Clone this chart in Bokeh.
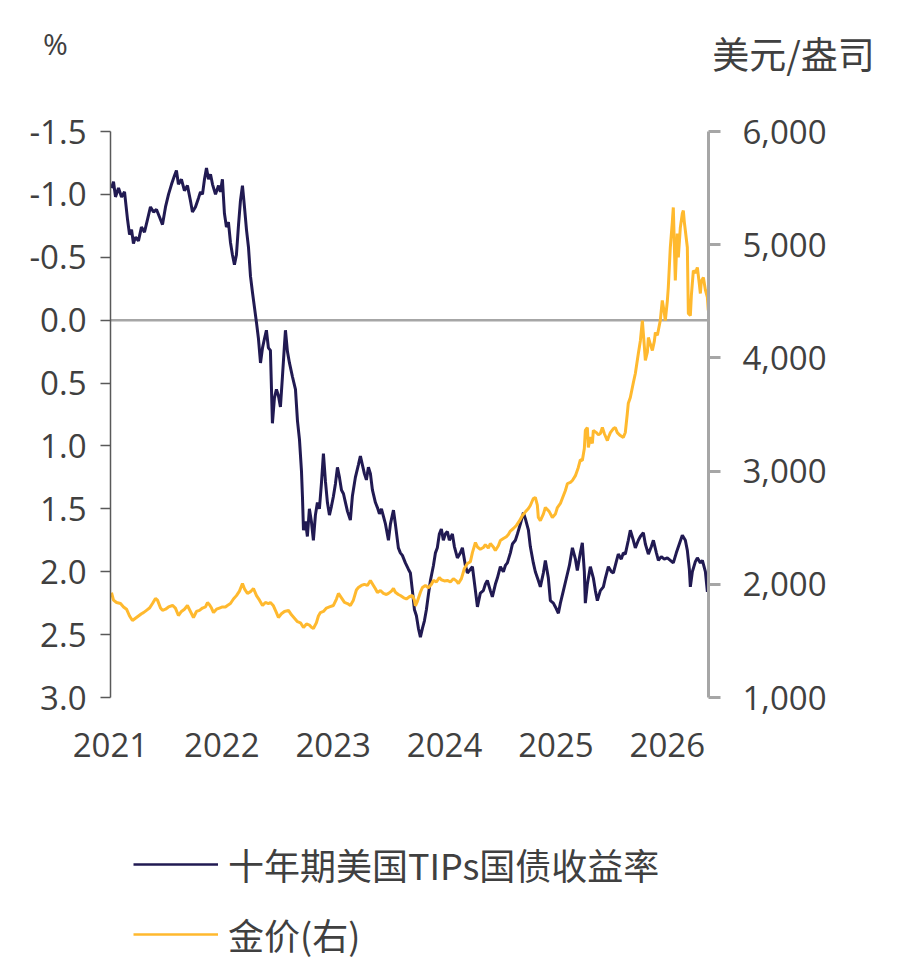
from bokeh.plotting import figure
from bokeh.layouts import column
from bokeh.models import (Range1d, LinearAxis, FixedTicker, NumeralTickFormatter,
                          Span, Label, Legend, LegendItem, ColumnDataSource)
from bokeh.embed import file_html
from bokeh.resources import INLINE

# 10-year US TIPS yield (%), sampled dates as decimal years
tips_t = [
    2021.009, 2021.027, 2021.045, 2021.072, 2021.099, 2021.126, 2021.153, 2021.171, 2021.189, 2021.206,
    2021.224, 2021.251, 2021.278, 2021.305, 2021.332, 2021.359, 2021.386, 2021.413, 2021.440, 2021.467,
    2021.494, 2021.521, 2021.548, 2021.575, 2021.592, 2021.610, 2021.637, 2021.664, 2021.691, 2021.718,
    2021.736, 2021.763, 2021.790, 2021.808, 2021.826, 2021.844, 2021.862, 2021.880, 2021.898, 2021.916,
    2021.943, 2021.970, 2021.987,
    2022.005, 2022.023, 2022.041, 2022.059, 2022.077, 2022.095, 2022.113, 2022.131, 2022.149, 2022.167,
    2022.185, 2022.203, 2022.221, 2022.239, 2022.257, 2022.275, 2022.293, 2022.311, 2022.329, 2022.347,
    2022.365, 2022.382, 2022.400, 2022.418, 2022.436, 2022.454, 2022.472, 2022.490, 2022.508, 2022.526,
    2022.544, 2022.562, 2022.571, 2022.589, 2022.607, 2022.634, 2022.661, 2022.679, 2022.697, 2022.715,
    2022.724, 2022.733, 2022.751, 2022.768, 2022.786, 2022.804, 2022.822, 2022.840, 2022.858, 2022.876,
    2022.894, 2022.912, 2022.930, 2022.948, 2022.966, 2022.984,
    2023.002, 2023.020, 2023.038, 2023.056, 2023.074, 2023.092, 2023.110, 2023.128, 2023.154, 2023.172,
    2023.199, 2023.226, 2023.244, 2023.262, 2023.280, 2023.298, 2023.316, 2023.334, 2023.352, 2023.379,
    2023.397, 2023.415, 2023.433, 2023.451, 2023.469, 2023.496, 2023.514, 2023.541, 2023.558, 2023.585,
    2023.603, 2023.621, 2023.648, 2023.675, 2023.693, 2023.711, 2023.729, 2023.747, 2023.765, 2023.783,
    2023.801, 2023.819, 2023.837, 2023.855, 2023.873, 2023.900, 2023.918, 2023.935, 2023.953, 2023.971,
    2023.989,
    2024.007, 2024.025, 2024.043, 2024.070, 2024.088, 2024.115, 2024.142, 2024.160, 2024.187, 2024.205,
    2024.232, 2024.250, 2024.277, 2024.295, 2024.321, 2024.348, 2024.366, 2024.384, 2024.411, 2024.429,
    2024.456, 2024.474, 2024.501, 2024.528, 2024.546, 2024.564, 2024.591, 2024.609, 2024.636, 2024.654,
    2024.681, 2024.708, 2024.726, 2024.753, 2024.770, 2024.797, 2024.815, 2024.842, 2024.860, 2024.887,
    2024.905, 2024.932, 2024.950, 2024.977, 2024.995,
    2025.022, 2025.040, 2025.067, 2025.094, 2025.121, 2025.148, 2025.175, 2025.192, 2025.219, 2025.237,
    2025.255, 2025.264, 2025.282, 2025.309, 2025.336, 2025.354, 2025.372, 2025.399, 2025.426, 2025.444,
    2025.471, 2025.498, 2025.516, 2025.542, 2025.560, 2025.587, 2025.605, 2025.623, 2025.650, 2025.668,
    2025.695, 2025.713, 2025.740, 2025.758, 2025.785, 2025.803, 2025.830, 2025.857, 2025.875, 2025.902,
    2025.920, 2025.946, 2025.973,
    2026.000, 2026.027, 2026.054, 2026.081, 2026.108, 2026.135, 2026.162, 2026.180, 2026.198, 2026.207,
    2026.225, 2026.252, 2026.270, 2026.297, 2026.315, 2026.342, 2026.360, 2026.368,
]
tips_yield = [
    -1.05, -1.10, -0.98, -1.05, -0.98, -1.02, -0.80, -0.68, -0.72, -0.61,
    -0.66, -0.63, -0.74, -0.70, -0.80, -0.90, -0.86, -0.88, -0.82, -0.76,
    -0.90, -1.00, -1.08, -1.15, -1.19, -1.08, -1.12, -1.03, -1.07, -0.95,
    -0.86, -0.90, -0.97, -1.02, -1.00, -1.12, -1.21, -1.12, -1.16, -1.08,
    -1.00, -1.07, -1.02,
    -1.12, -0.85, -0.74, -0.78, -0.62, -0.52, -0.44, -0.52, -0.75, -0.95,
    -1.07, -0.90, -0.72, -0.58, -0.35, -0.22, -0.10, 0.02, 0.15, 0.34,
    0.22, 0.15, 0.08, 0.22, 0.24, 0.82, 0.62, 0.55, 0.60, 0.69,
    0.45, 0.20, 0.08, 0.25, 0.34, 0.45, 0.55, 0.80, 0.95, 1.20,
    1.41, 1.67, 1.60, 1.72, 1.50, 1.60, 1.75, 1.55, 1.45, 1.50,
    1.30, 1.06, 1.28, 1.45, 1.55, 1.48,
    1.40, 1.30, 1.17, 1.25, 1.35, 1.38, 1.45, 1.52, 1.59, 1.40,
    1.25, 1.15, 1.08, 1.15, 1.22, 1.27, 1.17, 1.22, 1.35, 1.45,
    1.49, 1.54, 1.50, 1.56, 1.62, 1.75, 1.62, 1.51, 1.62, 1.81,
    1.85, 1.87, 1.93, 1.98, 2.01, 2.15, 2.30, 2.35, 2.45, 2.52,
    2.45, 2.39, 2.30, 2.18, 2.07, 1.95, 1.85, 1.81, 1.70, 1.66,
    1.75,
    1.70, 1.68, 1.75, 1.70, 1.80, 1.89, 1.85, 1.81, 1.95, 2.01,
    1.98, 1.96, 2.15, 2.28, 2.17, 2.15, 2.10, 2.07, 2.15, 2.20,
    2.10, 2.05, 1.96, 2.00, 1.95, 1.93, 1.85, 1.78, 1.75, 1.70,
    1.62, 1.53, 1.58, 1.67, 1.80, 1.93, 2.00, 2.07, 2.12, 2.01,
    1.91, 2.05, 2.23, 2.25, 2.28,
    2.33, 2.25, 2.15, 2.05, 1.95, 1.81, 1.90, 1.99, 1.85, 1.77,
    2.00, 2.25, 2.10, 1.96, 2.05, 2.15, 2.23, 2.15, 2.12, 2.05,
    1.96, 2.00, 2.01, 1.92, 1.86, 1.90, 1.85, 1.86, 1.75, 1.67,
    1.75, 1.81, 1.75, 1.72, 1.69, 1.78, 1.86, 1.80, 1.75, 1.85,
    1.91, 1.88, 1.90,
    1.89, 1.91, 1.93, 1.85, 1.78, 1.71, 1.75, 1.83, 1.98, 2.12,
    2.00, 1.92, 1.89, 1.93, 1.91, 2.00, 2.16, 2.09,
]

# Gold price (USD/oz), right axis
gold_t = [
    2021.009, 2021.027, 2021.054, 2021.090, 2021.117, 2021.144, 2021.171, 2021.197, 2021.224, 2021.251,
    2021.278, 2021.296, 2021.323, 2021.350, 2021.377, 2021.404, 2021.422, 2021.449, 2021.467, 2021.494,
    2021.521, 2021.557, 2021.583, 2021.610, 2021.637, 2021.664, 2021.691, 2021.718, 2021.745, 2021.772,
    2021.799, 2021.826, 2021.853, 2021.871, 2021.889, 2021.907, 2021.925, 2021.952, 2021.978,
    2022.005, 2022.032, 2022.050, 2022.077, 2022.104, 2022.131, 2022.158, 2022.185, 2022.203, 2022.230,
    2022.257, 2022.284, 2022.311, 2022.338, 2022.365, 2022.391, 2022.418, 2022.436, 2022.463, 2022.490,
    2022.508, 2022.535, 2022.562, 2022.598, 2022.625, 2022.652, 2022.679, 2022.706, 2022.733, 2022.760,
    2022.786, 2022.804, 2022.822, 2022.849, 2022.867, 2022.885, 2022.912, 2022.939, 2022.966,
    2023.002, 2023.029, 2023.047, 2023.074, 2023.101, 2023.128, 2023.154, 2023.181, 2023.208, 2023.226,
    2023.253, 2023.280, 2023.307, 2023.334, 2023.361, 2023.379, 2023.397, 2023.424, 2023.451, 2023.478,
    2023.496, 2023.523, 2023.541, 2023.558, 2023.585, 2023.603, 2023.630, 2023.657, 2023.684, 2023.711,
    2023.729, 2023.738, 2023.756, 2023.783, 2023.801, 2023.828, 2023.855, 2023.882, 2023.900, 2023.927,
    2023.953, 2023.971, 2023.998,
    2024.025, 2024.052, 2024.079, 2024.106, 2024.124, 2024.151, 2024.178, 2024.205, 2024.232, 2024.250,
    2024.277, 2024.295, 2024.321, 2024.348, 2024.366, 2024.393, 2024.411, 2024.438, 2024.456, 2024.483,
    2024.501, 2024.528, 2024.555, 2024.573, 2024.591, 2024.618, 2024.645, 2024.672, 2024.699, 2024.726,
    2024.753, 2024.770, 2024.797, 2024.815, 2024.833, 2024.842, 2024.860, 2024.887, 2024.905, 2024.923,
    2024.941, 2024.968, 2024.995,
    2025.013, 2025.040, 2025.058, 2025.085, 2025.103, 2025.130, 2025.148, 2025.175, 2025.201, 2025.219,
    2025.237, 2025.255, 2025.264, 2025.282, 2025.291, 2025.309, 2025.327, 2025.336, 2025.363, 2025.381,
    2025.399, 2025.417, 2025.435, 2025.462, 2025.471, 2025.489, 2025.516, 2025.533, 2025.551, 2025.578,
    2025.605, 2025.623, 2025.641, 2025.650, 2025.668, 2025.695, 2025.713, 2025.740, 2025.758, 2025.776,
    2025.794, 2025.803, 2025.821, 2025.830, 2025.848, 2025.866, 2025.884, 2025.893, 2025.911, 2025.937,
    2025.955, 2025.973, 2025.982,
    2026.000, 2026.009, 2026.027, 2026.045, 2026.054, 2026.063, 2026.072, 2026.081, 2026.090, 2026.099,
    2026.117, 2026.135, 2026.144, 2026.153, 2026.162, 2026.180, 2026.189, 2026.207, 2026.216, 2026.234,
    2026.252, 2026.270, 2026.288, 2026.297, 2026.306, 2026.324, 2026.342, 2026.360, 2026.368,
]
gold_price = [
    1927, 1860, 1839, 1830, 1800, 1780, 1720, 1680, 1700, 1720,
    1740, 1750, 1770, 1790, 1830, 1875, 1860, 1790, 1770, 1780,
    1800, 1813, 1790, 1724, 1760, 1780, 1813, 1760, 1707, 1760,
    1770, 1790, 1800, 1839, 1820, 1790, 1750, 1780, 1790,
    1800, 1800, 1813, 1830, 1870, 1900, 1940, 2007, 1960, 1919,
    1935, 1963, 1900, 1860, 1813, 1840, 1830, 1839, 1810, 1750,
    1707, 1740, 1760, 1770, 1730, 1700, 1670, 1660, 1618, 1650,
    1640, 1620, 1610, 1660, 1720, 1750, 1760, 1790, 1800,
    1813, 1870, 1919, 1880, 1840, 1830, 1813, 1860, 1950, 1972,
    1990, 2000, 1990, 2034, 1990, 1960, 1927, 1945, 1920, 1910,
    1920, 1940, 1963, 1930, 1910, 1901, 1883, 1870, 1890, 1901,
    1860, 1810, 1850, 1930, 1972, 1990, 1970, 2000, 2034, 2020,
    2060, 2040, 2030,
    2034, 2020, 2050, 2030, 2007, 2050, 2140, 2184, 2200, 2280,
    2369, 2330, 2310, 2325, 2350, 2320, 2360, 2330, 2298, 2340,
    2387, 2404, 2420, 2440, 2470, 2493, 2520, 2560, 2608, 2640,
    2670, 2696, 2758, 2767, 2700, 2590, 2563, 2620, 2678, 2660,
    2640, 2590, 2620,
    2678, 2714, 2760, 2829, 2890, 2900, 2917, 2960, 3032, 3100,
    3094, 3200, 3359, 3385, 3209, 3300, 3244, 3359, 3340, 3320,
    3332, 3385, 3330, 3270, 3297, 3340, 3376, 3385, 3340, 3314,
    3297, 3341, 3509, 3600, 3650, 3780, 3862, 4039, 4150, 4330,
    4100, 3977, 4050, 4180, 4120, 4065, 4150, 4224, 4200, 4330,
    4507, 4400, 4330,
    4500, 4622, 4975, 5200, 5329, 5000, 4684, 4900, 5099, 4887,
    5150, 5276, 5302, 5200, 5125, 4975, 4392, 4374, 4550, 4772,
    4750, 4799, 4650, 4569, 4680, 4710, 4600, 4534, 4419,
]

year_ticks = [2021, 2022, 2023, 2024, 2025, 2026]
yield_ticks = [-1.5, -1.0, -0.5, 0.0, 0.5, 1.0, 1.5, 2.0, 2.5, 3.0]
gold_ticks = [1000, 2000, 3000, 4000, 5000, 6000]

series_names = ["十年期美国TIPs国债收益率", "金价(右)"]
left_unit = "%"
right_unit = "美元/盎司"

assert len(tips_t) == len(tips_yield)
assert len(gold_t) == len(gold_price)

NAVY = "#211A52"
GOLD = "#FFB92E"
TEXT = "#404040"
NUM_FONT = "Open Sans"
CJK_FONT = "Noto Sans CJK SC"
TICK_SIZE = "33px"

MAIN_H = 800
LEGEND_H = 980 - MAIN_H

# ---------------- main chart ----------------
p = figure(
    width=916, height=MAIN_H,
    output_backend="svg", toolbar_location=None,
    x_range=Range1d(2021.0, 2026.37),
    y_range=Range1d(3.0, -1.5),          # inverted: negative yields at the top
    min_border_left=110, min_border_right=208,
    min_border_top=131, min_border_bottom=MAIN_H - 697,
)
p.extra_y_ranges = {"gold": Range1d(1000, 6000)}
p.outline_line_color = None
p.xgrid.visible = False
p.ygrid.visible = False
p.background_fill_color = "white"
p.border_fill_color = "white"

# bottom axis: year labels only
xa = p.xaxis[0]
xa.ticker = FixedTicker(ticks=year_ticks)
xa.formatter = NumeralTickFormatter(format="0")
xa.axis_line_color = None
xa.major_tick_line_color = None
xa.minor_tick_line_color = None
xa.major_tick_out = 0
xa.major_tick_in = 0
xa.major_label_standoff = 35
xa.major_label_text_font = NUM_FONT
xa.major_label_text_font_size = TICK_SIZE
xa.major_label_text_color = TEXT

# left axis: yield
ya = p.yaxis[0]
ya.ticker = FixedTicker(ticks=yield_ticks)
ya.formatter = NumeralTickFormatter(format="0.0")
ya.axis_line_color = "#595959"
ya.axis_line_width = 1.5
ya.major_tick_line_color = "#595959"
ya.major_tick_line_width = 1.5
ya.major_tick_in = 0
ya.major_tick_out = 10
ya.minor_tick_line_color = None
ya.major_label_standoff = 14
ya.major_label_text_font = NUM_FONT
ya.major_label_text_font_size = TICK_SIZE
ya.major_label_text_color = TEXT

# right axis: gold price
ra = LinearAxis(y_range_name="gold")
ra.ticker = FixedTicker(ticks=gold_ticks)
ra.formatter = NumeralTickFormatter(format="0,0")
ra.axis_line_color = "#A6A6A6"
ra.axis_line_width = 3
ra.major_tick_line_color = "#A6A6A6"
ra.major_tick_line_width = 3
ra.major_tick_in = 0
ra.major_tick_out = 12
ra.minor_tick_line_color = None
ra.major_label_standoff = 22
ra.major_label_text_font = NUM_FONT
ra.major_label_text_font_size = TICK_SIZE
ra.major_label_text_color = TEXT
p.add_layout(ra, "right")

# zero line
p.add_layout(Span(location=0, dimension="width", line_color="#A6A6A6",
                  line_width=2.5, level="underlay"))

tips_src = ColumnDataSource(dict(t=tips_t, v=tips_yield))
gold_src = ColumnDataSource(dict(t=gold_t, v=gold_price))

p.line("t", "v", source=tips_src, line_color=NAVY, line_width=3)
p.line("t", "v", source=gold_src, line_color=GOLD, line_width=3, y_range_name="gold")

# unit captions above the two value axes (stacked side panels)
p.add_layout(Label(x=-55, y=88, x_units="screen", y_units="screen",
                   text=left_unit, text_align="center", text_baseline="middle",
                   text_font=NUM_FONT, text_font_size="30px", text_color=TEXT), "above")
p.add_layout(Label(x=683, y=38, x_units="screen", y_units="screen",
                   text=right_unit, text_align="center", text_baseline="middle",
                   text_font=CJK_FONT, text_font_size="37px", text_color=TEXT), "above")

# ---------------- legend strip ----------------
lg = figure(width=916, height=LEGEND_H, output_backend="svg", toolbar_location=None,
            x_axis_type=None, y_axis_type=None,
            x_range=Range1d(0, 1), y_range=Range1d(0, 1),
            min_border_left=110, min_border_right=208,
            min_border_top=0, min_border_bottom=0)
lg.outline_line_color = None
lg.xgrid.visible = False
lg.ygrid.visible = False
# single-point key lines: they draw nothing in the strip, only feed the legend swatches
key_tips = lg.line(x=[tips_t[0]], y=[tips_yield[0]], line_color=NAVY, line_width=2.5)
key_gold = lg.line(x=[gold_t[0]], y=[gold_price[0]], line_color=GOLD, line_width=2.5)

legend = Legend(
    items=[LegendItem(label=series_names[0], renderers=[key_tips]),
           LegendItem(label=series_names[1], renderers=[key_gold])],
    location=(23, 20),
    orientation="vertical",
    glyph_width=85, glyph_height=40,
    label_standoff=10, spacing=18,
    padding=0, margin=0,
    label_text_font=CJK_FONT, label_text_font_size="36px",
    label_text_color=TEXT,
    border_line_color=None, background_fill_alpha=0,
)
lg.add_layout(legend)

layout = column(p, lg, spacing=0)
open("out.html", "w").write(file_html(layout, INLINE))
